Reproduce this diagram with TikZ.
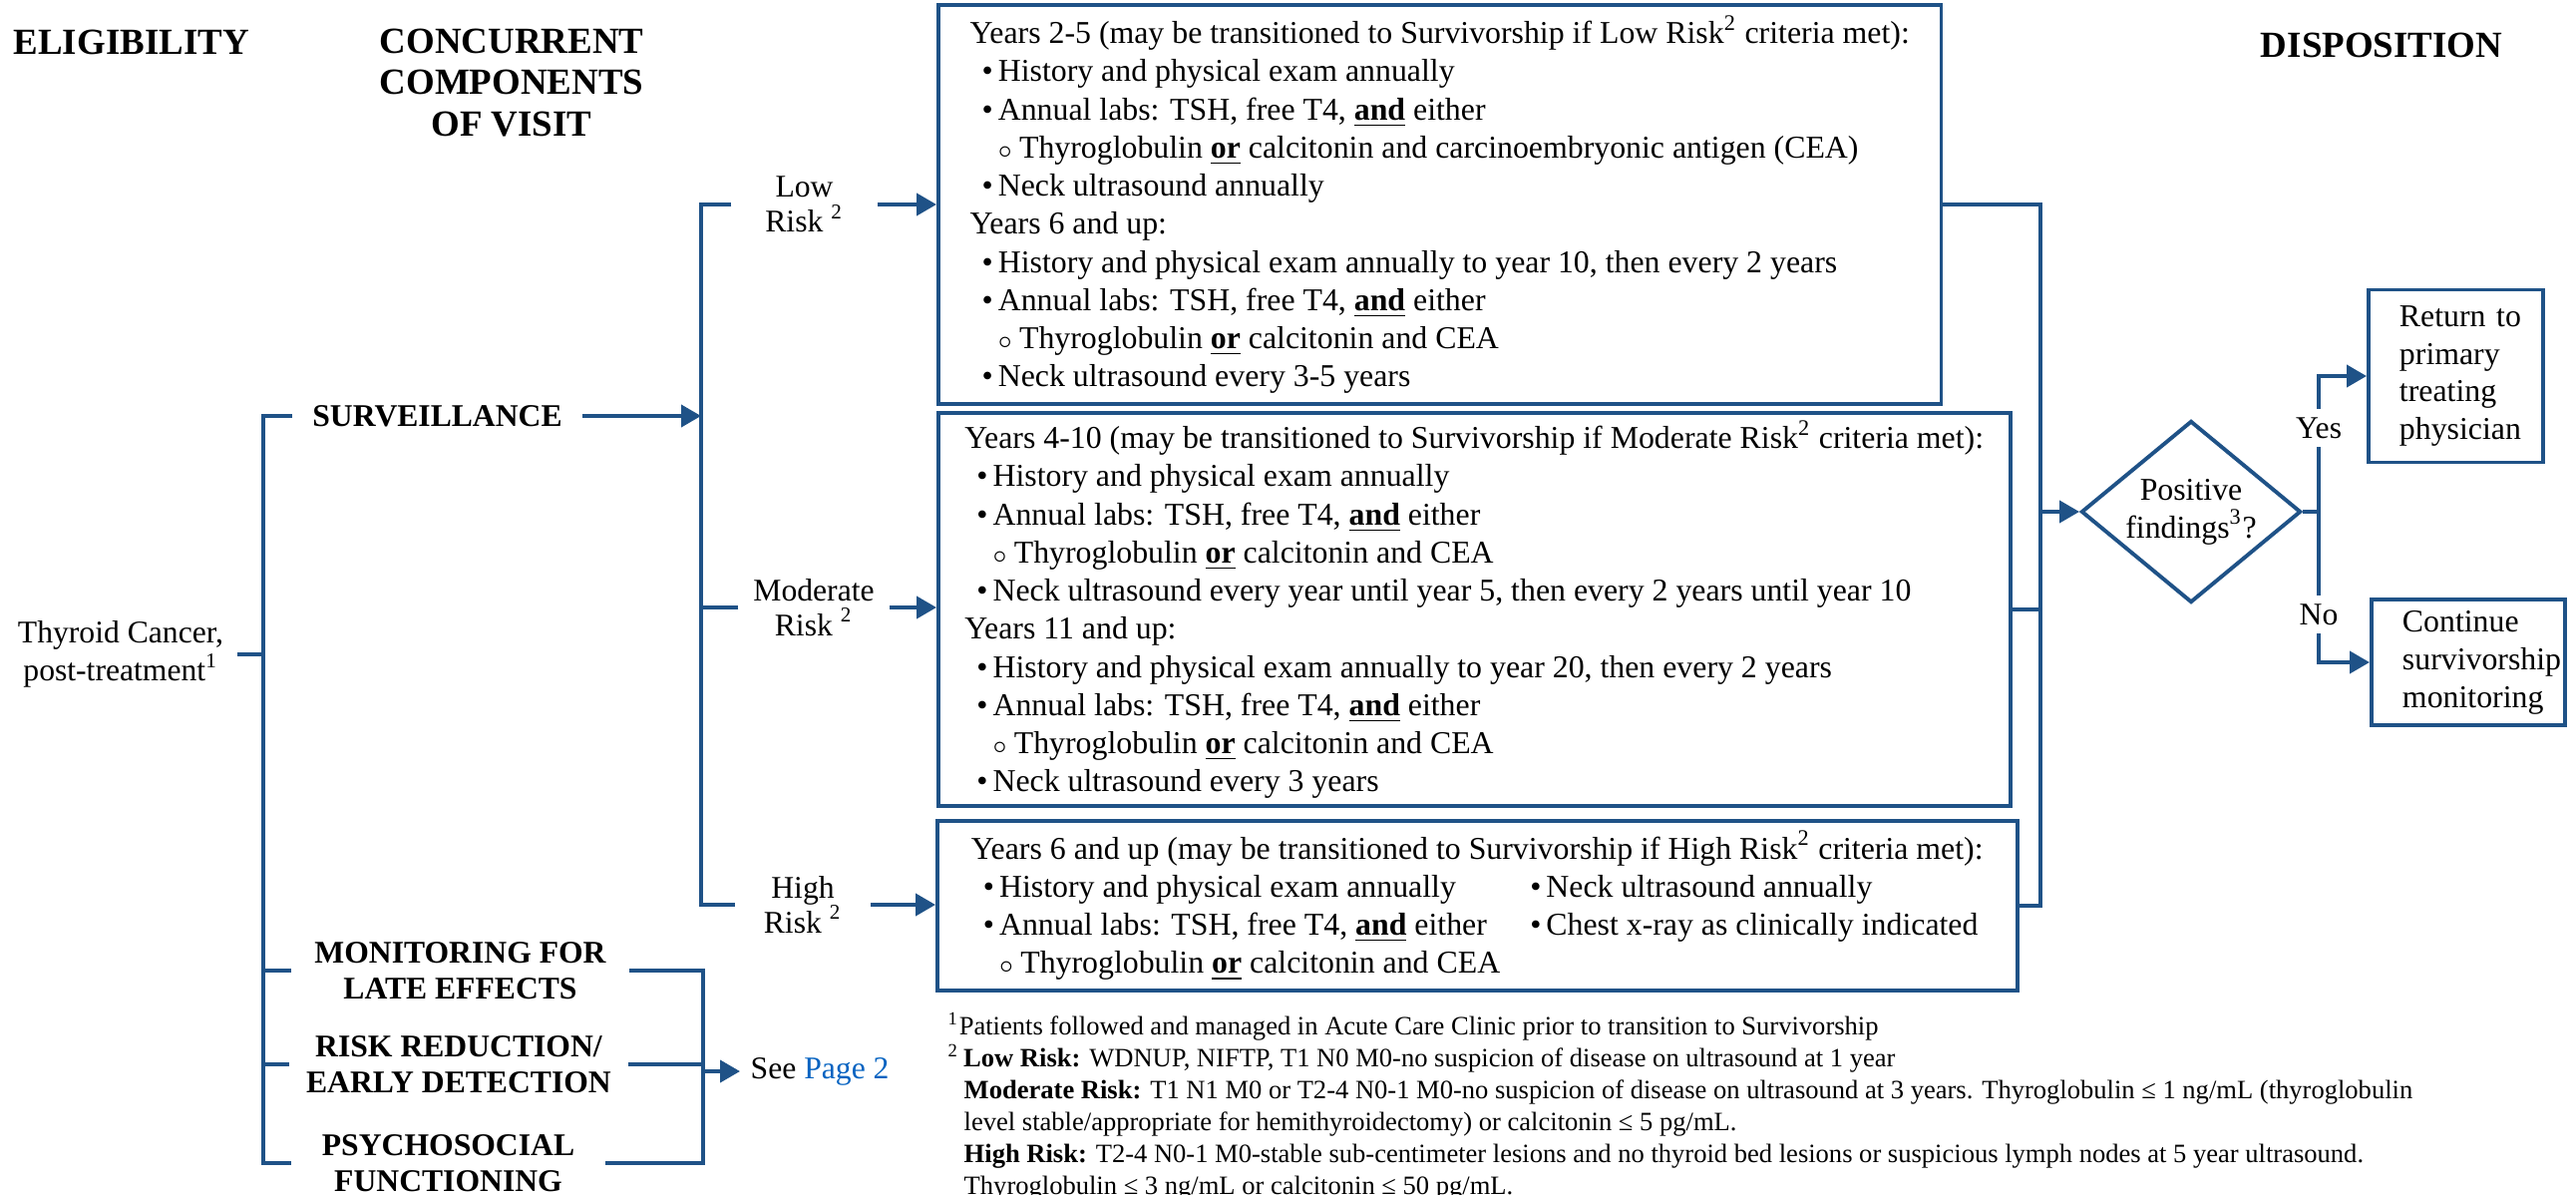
\documentclass[tikz,border=0pt]{standalone}
\usepackage{fontspec}
\setmainfont{Liberation Serif}
\usetikzlibrary{arrows.meta,shapes.geometric}
\definecolor{flowblue}{RGB}{31,82,135}
\definecolor{linkblue}{RGB}{5,99,193}
\newcommand{\bitem}{\hspace*{0.12cm}\textbullet\hspace{0.05cm}}
\newcommand{\citem}{\hspace*{0.28cm}{\scriptsize$\circ$}\hspace{0.07cm}}
\newcommand{\bu}[1]{\underline{\textbf{#1}}}

\begin{document}
\begin{tikzpicture}[x=0.01cm,y=-0.01cm,
    head/.style={font=\fontsize{10.5}{11.7}\selectfont\bfseries, align=center, inner sep=0pt},
    comp/.style={font=\fontsize{9}{10.2}\selectfont\bfseries, align=center, inner sep=0pt},
    lbl/.style={font=\fontsize{9}{10}\selectfont, align=center, inner sep=0pt},
    infobox/.style={draw=flowblue, line width=1.1pt, inner sep=0pt, align=left,
      font=\fontsize{9.05}{10.87}\selectfont},
    endbox/.style={draw=flowblue, line width=1.1pt, inner xsep=0.31cm, inner ysep=0pt,
      align=left, font=\fontsize{9.05}{10.8}\selectfont},
    link/.style={draw=flowblue, line width=1.1pt},
    arrow/.style={link, -{Triangle[length=0.2cm,width=0.22cm]}}]
  \useasboundingbox (0,0) rectangle (2583,1197);

  \node[head, anchor=west] (elig) at (13,42) {ELIGIBILITY};
  \node[head] (conc) at (513,83) {CONCURRENT\\COMPONENTS\\OF VISIT};
  \node[head] (disp) at (2388,45) {DISPOSITION};

  \node[lbl, font=\fontsize{9}{9.4}\selectfont] (thyroid) at (121,656) {Thyroid Cancer,\\post-treatment\textsuperscript{1}};
  \node[comp, minimum width=2.89cm] (surv) at (438.5,417) {SURVEILLANCE};
  \node[comp, minimum width=3.37cm] (late) at (461.5,973) {MONITORING FOR\\LATE EFFECTS};
  \node[comp, minimum width=3.38cm] (riskred) at (460,1067) {RISK REDUCTION/\\EARLY DETECTION};
  \node[comp, minimum width=3.13cm] (psych) at (449.5,1166) {PSYCHOSOCIAL\\FUNCTIONING};
  \node[lbl, anchor=west, inner xsep=0.1cm] (seepage) at (742,1074) {See \textcolor{linkblue}{Page 2}};

  \node[lbl, minimum width=1.45cm] (low) at (806.5,205) {Low\\Risk \textsuperscript{2}};
  \node[lbl, minimum width=1.50cm] (mod) at (816,609) {Moderate\\Risk \textsuperscript{2}};
  \node[lbl, minimum width=1.34cm] (high) at (805,907) {High\\Risk \textsuperscript{2}};

  \node[infobox, minimum width=10.05cm, minimum height=3.99cm, anchor=west] (lowbox) at (939,205) {%
    Years 2-5 (may be transitioned to Survivorship if Low Risk\textsuperscript{2} criteria met):\\
    \bitem History and physical exam annually\\
    \bitem Annual labs: TSH, free T4, \bu{and} either\\
    \citem Thyroglobulin \bu{or} calcitonin and carcinoembryonic antigen (CEA)\\
    \bitem Neck ultrasound annually\\
    Years 6 and up:\\
    \bitem History and physical exam annually to year 10, then every 2 years\\
    \bitem Annual labs: TSH, free T4, \bu{and} either\\
    \citem Thyroglobulin \bu{or} calcitonin and CEA\\
    \bitem Neck ultrasound every 3-5 years};
  \node[infobox, minimum width=10.74cm, minimum height=3.94cm, anchor=west] (modbox) at (939,611) {%
    Years 4-10 (may be transitioned to Survivorship if Moderate Risk\textsuperscript{2} criteria met):\\
    \bitem History and physical exam annually\\
    \bitem Annual labs: TSH, free T4, \bu{and} either\\
    \citem Thyroglobulin \bu{or} calcitonin and CEA\\
    \bitem Neck ultrasound every year until year 5, then every 2 years until year 10\\
    Years 11 and up:\\
    \bitem History and physical exam annually to year 20, then every 2 years\\
    \bitem Annual labs: TSH, free T4, \bu{and} either\\
    \citem Thyroglobulin \bu{or} calcitonin and CEA\\
    \bitem Neck ultrasound every 3 years};
  \node[infobox, minimum width=10.82cm, minimum height=1.70cm, anchor=west] (highbox) at (938,908) {%
    Years 6 and up (may be transitioned to Survivorship if High Risk\textsuperscript{2} criteria met):\\
    \makebox[5.48cm][l]{\bitem History and physical exam annually}\bitem Neck ultrasound annually\\
    \makebox[5.48cm][l]{\bitem Annual labs: TSH, free T4, \bu{and} either}\bitem Chest x-ray as clinically indicated\\
    \citem Thyroglobulin \bu{or} calcitonin and CEA};

  \node[draw=flowblue, line width=1.1pt, diamond, aspect=1.21, minimum width=2.2cm, minimum height=1.82cm,
    inner sep=0pt, align=center, font=\fontsize{9.05}{10.8}\selectfont] (diam) at (2197,513) {Positive\\findings\textsuperscript{3}?};
  \node[endbox, text width=1.13cm, minimum height=1.73cm, anchor=west] (ret) at (2373,377) {Return~to\\primary\\treating\\physician};
  \node[endbox, text width=1.32cm, minimum height=1.26cm, anchor=west] (cont) at (2376,664) {Continue\\survivorship\\monitoring};

  \node[anchor=north west, inner sep=0pt, align=left, font=\fontsize{7.55}{9.1}\selectfont] (notes) at (950,1015) {%
    \textsuperscript{1}Patients followed and managed in Acute Care Clinic prior to transition to Survivorship\\
    \textsuperscript{2}\,\textbf{Low Risk:} WDNUP, NIFTP, T1 N0 M0-no suspicion of disease on ultrasound at 1 year\\
    \hspace*{0.16cm}\textbf{Moderate Risk:} T1 N1 M0 or T2-4 N0-1 M0-no suspicion of disease on ultrasound at 3 years. Thyroglobulin ≤ 1 ng/mL (thyroglobulin\\
    \hspace*{0.16cm}level stable/appropriate for hemithyroidectomy) or calcitonin ≤ 5 pg/mL.\\
    \hspace*{0.16cm}\textbf{High Risk:} T2-4 N0-1 M0-stable sub-centimeter lesions and no thyroid bed lesions or suspicious lymph nodes at 5 year ultrasound.\\
    \hspace*{0.16cm}Thyroglobulin ≤ 3 ng/mL or calcitonin ≤ 50 pg/mL.};

  \coordinate (stop) at (264,417);
  \coordinate (sbot) at (264,1166);
  \coordinate (rtop) at (703,205);
  \coordinate (rbot) at (703,907);
  \coordinate (btop) at (705,973);
  \coordinate (bbot) at (705,1166);
  \coordinate (dbus) at (2046,513);
  \coordinate (ybus) at (2325,513);

  \draw[link] (surv.west) -- (stop) -- (sbot) -- (psych.west);
  \draw[link] ([xshift=0.13cm]thyroid.east) -- (thyroid.east -| stop);
  \draw[link] (late.west) -- (late.west -| stop);
  \draw[link] (riskred.west) -- (riskred.west -| stop);
  \draw[arrow] (surv.east) -- (surv.east -| rtop);

  \draw[link] (late.east) -- (btop) -- (bbot) -- (psych.east);
  \draw[link] (riskred.east) -- (riskred.east -| btop);
  \draw[arrow] (seepage.west -| btop) -- (seepage.west);

  \draw[link] (low.west) -- (rtop) -- (rbot) -- (high.west);
  \draw[link] (mod.west) -- (mod.west -| rtop);
  \draw[arrow] (low.east) -- (low.east -| lowbox.west);
  \draw[arrow] (mod.east) -- (mod.east -| modbox.west);
  \draw[arrow] (high.east) -- (high.east -| highbox.west);

  \draw[link] (lowbox.east) -| (dbus) |- (highbox.east);
  \draw[link] (modbox.east) -- (modbox.east -| dbus);
  \draw[arrow] (dbus) -- (diam.west);
  \draw[link] (diam.east) -- (ybus);
  \draw[arrow] (ybus) |- (ret.west);
  \draw[arrow] (ybus) |- (cont.west);
  \node[lbl, fill=white, inner ysep=0.08cm] (yes) at (2325,429) {Yes};
  \node[lbl, fill=white, inner ysep=0.08cm] (no) at (2325,616) {No};
\end{tikzpicture}
\end{document}
